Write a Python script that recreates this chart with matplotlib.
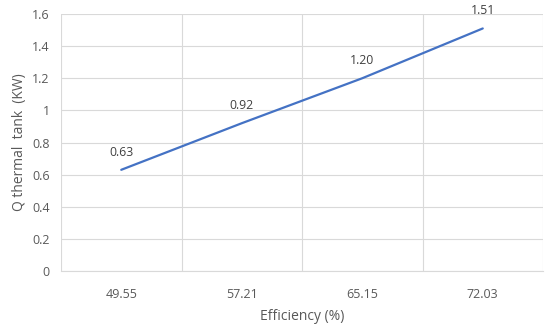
import numpy as np
import matplotlib
matplotlib.use("Agg")
import matplotlib.pyplot as plt

# data
efficiency = ["49.55", "57.21", "65.15", "72.03"]
q_thermal = [0.63, 0.92, 1.20, 1.51]
y_ticks = [0, 0.2, 0.4, 0.6, 0.8, 1, 1.2, 1.4, 1.6]
y_tick_labels = ["0", "0.2", "0.4", "0.6", "0.8", "1", "1.2", "1.4", "1.6"]

text_color = "#595959"
grid_color = "#D9D9D9"
line_color = "#4472C4"

plt.rcParams["font.family"] = ["Open Sans", "DejaVu Sans"]

fig = plt.figure(figsize=(5.51, 3.27), dpi=100)
ax = fig.add_axes([61 / 551, 1 - 271 / 327, 482 / 551, 257 / 327])

x = np.arange(len(efficiency))
ax.plot(x, q_thermal, color=line_color, linewidth=1.6, solid_capstyle="round")

for xi, v in zip(x, q_thermal):
    ax.annotate(f"{v:.2f}", (xi, v), xytext=(0, 8), textcoords="offset points",
                ha="center", va="bottom", fontsize=8.8, color="#404040",
                annotation_clip=False)

ax.set_xlim(-0.5, len(efficiency) - 0.5)
ax.set_ylim(0, 1.6)
ax.set_yticks(y_ticks)
ax.set_yticklabels(y_tick_labels)
ax.set_xticks(x)
ax.set_xticklabels(efficiency)

# category boundary gridlines
ax.set_xticks(np.arange(len(efficiency) + 1) - 0.5, minor=True)
ax.grid(which="minor", axis="x", color=grid_color, linewidth=0.8)
ax.grid(which="major", axis="y", color=grid_color, linewidth=0.8)
ax.set_axisbelow(True)

for s in ["top", "right", "left"]:
    ax.spines[s].set_visible(False)
ax.spines["bottom"].set_color(grid_color)
ax.spines["bottom"].set_linewidth(0.8)

ax.tick_params(axis="both", which="both", length=0, labelsize=9, colors=text_color)
ax.tick_params(axis="x", pad=12)
ax.tick_params(axis="y", pad=8)

ax.set_xlabel("Efficiency (%)", fontsize=10, color=text_color, labelpad=6)
ax.set_ylabel("Q thermal  tank  (KW)", fontsize=10, color=text_color, labelpad=4)

fig.savefig("out.png", dpi=100)
